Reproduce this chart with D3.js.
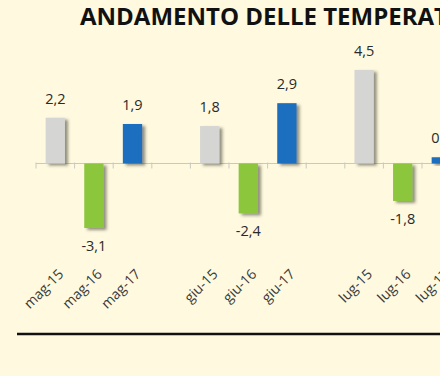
<!DOCTYPE html>
<html>
<head>
<meta charset="utf-8">
<script src="https://cdn.jsdelivr.net/npm/d3@7"></script>
<style>
  html, body { margin: 0; padding: 0; background: #FEF9DF; }
  svg { display: block; }
</style>
</head>
<body>
<svg id="chart" width="440" height="376"></svg>
<script>
// Data (Italian decimal comma in labels)
const categories = ["mag-15", "mag-16", "mag-17", "", "giu-15", "giu-16", "giu-17", "", "lug-15", "lug-16", "lug-17", ""];
const values     = [2.2, -3.1, 1.9, null, 1.8, -2.4, 2.9, null, 4.5, -1.8, 0.3, null];
const yearKeys   = ["15", "16", "17"];
const yearColors = ["#D5D5D3", "#8CC63E", "#1C6EBE"];
const title = "ANDAMENTO DELLE TEMPERATURE";

const svg = d3.select("#chart");
const W = 440, H = 376;

svg.append("rect").attr("width", W).attr("height", H).attr("fill", "#FEF9DF");

const defs = svg.append("defs");
const f = defs.append("filter").attr("id", "shadow")
  .attr("x", "-30%").attr("y", "-30%").attr("width", "160%").attr("height", "160%");
f.append("feDropShadow").attr("dx", 3).attr("dy", 2).attr("stdDeviation", 1.4)
  .attr("flood-color", "#3a3a30").attr("flood-opacity", 0.55);

const idx = categories.map((d, i) => i);
const x = d3.scaleBand().domain(idx).range([36, 36 + 38.6 * categories.length]).paddingInner(0.5).paddingOuter(0.25);
const y = d3.scaleLinear().domain([-5, 5]).range([163.5 + 104, 163.5 - 104]);

const color = d3.scaleOrdinal().domain(yearKeys).range(yearColors);
const fmt = v => d3.format(".1f")(v).replace(".", ",").replace("\u2212", "-");

// Title
svg.append("text")
  .attr("x", 80).attr("y", 25)
  .attr("font-family", "'Open Sans', sans-serif")
  .attr("font-weight", "bold")
  .attr("font-size", 24)
  .attr("fill", "#111")
  .text(title);

// zero axis with ticks at slot boundaries
const xStep = x.step();
const x0 = x.range()[0];
const boundaries = d3.range(categories.length + 1).map(i => x0 + i * xStep);
svg.append("line")
  .attr("x1", x0).attr("x2", W + 10)
  .attr("y1", y(0)).attr("y2", y(0))
  .attr("stroke", "#C9C9C0").attr("stroke-width", 1);
svg.selectAll(".tk").data(boundaries).join("line")
  .attr("x1", d => d).attr("x2", d => d)
  .attr("y1", y(0) - 1).attr("y2", y(0) + 5)
  .attr("stroke", "#C9C9C0").attr("stroke-width", 1);

const data = idx.filter(i => values[i] !== null).map(i => ({
  cat: categories[i], i, v: values[i], year: categories[i].split("-")[1]
}));

// Bars
svg.selectAll(".bar").data(data).join("rect")
  .attr("x", d => x(d.i))
  .attr("width", x.bandwidth())
  .attr("y", d => Math.min(y(d.v), y(0)))
  .attr("height", d => Math.abs(y(d.v) - y(0)))
  .attr("fill", d => color(d.year))
  .attr("filter", "url(#shadow)");

// Value labels
svg.selectAll(".val").data(data).join("text")
  .attr("x", d => x(d.i) + x.bandwidth() / 2)
  .attr("y", d => d.v >= 0 ? y(d.v) - 14 : y(d.v) + 23)
  .attr("text-anchor", "middle")
  .attr("font-family", "'Open Sans', sans-serif")
  .attr("font-size", 14.5)
  .attr("fill", "#2a2a2a")
  .text(d => fmt(d.v));

// Category labels rotated
svg.selectAll(".cl").data(data).join("text")
  .attr("transform", d => `translate(${x(d.i) + x.bandwidth() / 2 + 9},${275}) rotate(-45)`)
  .attr("text-anchor", "end")
  .attr("font-family", "'Open Sans', sans-serif")
  .attr("font-size", 14)
  .attr("fill", "#3a3a3a")
  .text(d => d.cat);

// Bottom black rule
svg.append("line")
  .attr("x1", 17).attr("x2", W + 5)
  .attr("y1", 334).attr("y2", 334)
  .attr("stroke", "#111").attr("stroke-width", 2.3);
</script>
</body>
</html>
